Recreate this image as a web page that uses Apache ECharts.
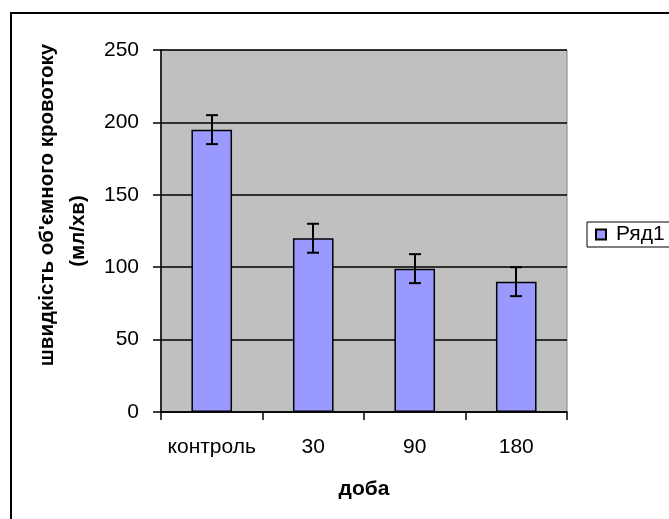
<!DOCTYPE html>
<html>
<head>
<meta charset="utf-8">
<script src="https://cdn.jsdelivr.net/npm/echarts@6/dist/echarts.min.js"></script>
<style>html,body{margin:0;padding:0;background:#fff}#c{width:669px;height:519px}</style>
</head>
<body>
<div id="c"></div>
<script>
const categories = ['контроль', '30', '90', '180'];
const values = [195, 120, 99, 90];
const errors = [10, 10, 10, 10];
const yTicks = [0, 50, 100, 150, 200, 250];
const seriesName = 'Ряд1';
const yTitle1 = 'швидкість об\'ємного кровотоку';
const yTitle2 = '(мл/хв)';
const xTitle = 'доба';

const FONT = '"Liberation Sans", Arial, sans-serif';
const chart = echarts.init(document.getElementById('c'));
chart.setOption({
  animation: false,
  backgroundColor: '#fff',
  grid: {left: 161, top: 50, right: 102, bottom: 107, show: true,
         backgroundColor: '#C0C0C0', borderColor: '#808080', borderWidth: 1},
  legend: {
    data: [seriesName], left: 587, top: 222, orient: 'vertical',
    borderColor: '#000', borderWidth: 1, padding: [2, 6, 2, 8],
    itemWidth: 10, itemHeight: 10, itemGap: 5, icon: 'rect',
    textStyle: {fontFamily: FONT, fontSize: 21, color: '#000', padding: [0, 0, 0, 5]}
  },
  xAxis: {
    type: 'category', data: categories,
    name: xTitle, nameLocation: 'middle', nameGap: 67,
    nameTextStyle: {fontFamily: FONT, fontSize: 21, fontWeight: 'bold', color: '#000'},
    axisLine: {lineStyle: {color: '#000', width: 1.5}},
    axisTick: {show: true, interval: 0, length: 8, lineStyle: {color: '#000', width: 1.5}},
    axisLabel: {fontFamily: FONT, fontSize: 21, color: '#000', margin: 25, interval: 0},
    splitLine: {show: false}
  },
  yAxis: {
    type: 'value', min: 0, max: 250, interval: 50,
    axisLine: {show: true, lineStyle: {color: '#000', width: 1.5}},
    axisTick: {show: true, length: 8, lineStyle: {color: '#000', width: 1.5}},
    axisLabel: {fontFamily: FONT, fontSize: 21, color: '#000', margin: 22,
      formatter: v => yTicks.includes(v) ? String(v) : ''},
    splitLine: {show: true, lineStyle: {color: '#000', width: 1.5}}
  },
  series: [
    {
      name: seriesName, type: 'bar', data: values, barWidth: '40%',
      itemStyle: {color: '#9999FF', borderColor: '#000', borderWidth: 1.5}
    },
    {
      type: 'custom', name: 'err', silent: true,
      data: values.map((v, i) => [i, v - errors[i], v + errors[i]]),
      renderItem: function (params, api) {
        const lo = api.coord([api.value(0), api.value(1)]);
        const hi = api.coord([api.value(0), api.value(2)]);
        const x = Math.round(lo[0]);
        const w = 6;
        const st = {stroke: '#000', lineWidth: 2};
        return {type: 'group', children: [
          {type: 'line', shape: {x1: x, y1: lo[1], x2: x, y2: hi[1]}, style: st},
          {type: 'line', shape: {x1: x - w, y1: lo[1], x2: x + w, y2: lo[1]}, style: st},
          {type: 'line', shape: {x1: x - w, y1: hi[1], x2: x + w, y2: hi[1]}, style: st}
        ]};
      },
      z: 5
    }
  ],
  graphic: [
    {type: 'rect', shape: {x: 11, y: 13, width: 800, height: 700}, style: {fill: 'none', stroke: '#000', lineWidth: 2}, z: -1, silent: true},
    {type: 'text', x: 47, y: 205, rotation: Math.PI / 2,
     style: {text: yTitle1, fontFamily: FONT, fontSize: 20.5, fontWeight: 'bold', fill: '#000', align: 'center', verticalAlign: 'middle'}},
    {type: 'text', x: 78, y: 231, rotation: Math.PI / 2,
     style: {text: yTitle2, fontFamily: FONT, fontSize: 20.5, fontWeight: 'bold', fill: '#000', align: 'center', verticalAlign: 'middle'}}
  ]
});
</script>
</body>
</html>
